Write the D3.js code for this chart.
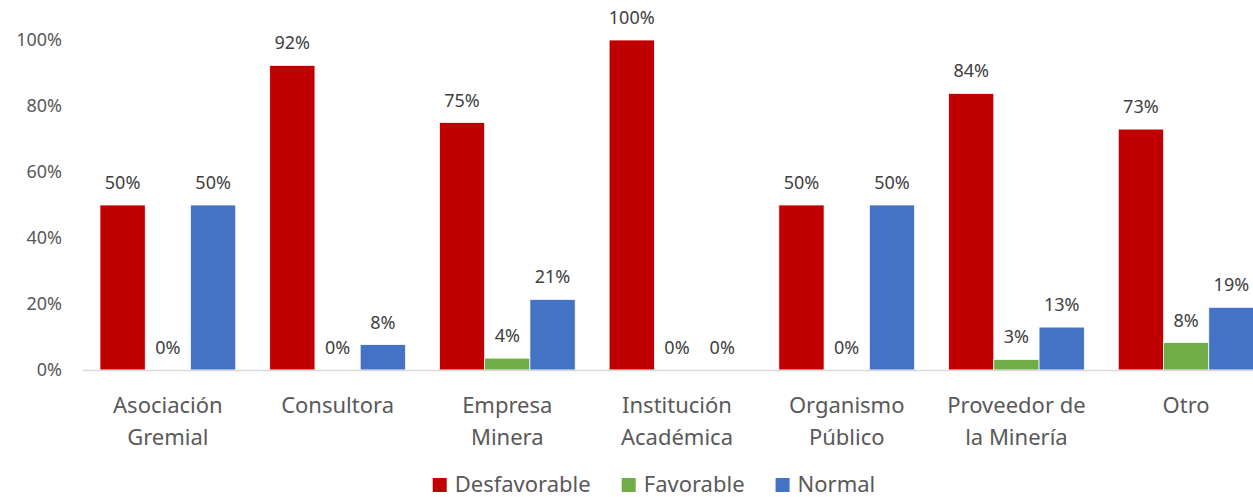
<!DOCTYPE html>
<html>
<head>
<meta charset="utf-8">
<script src="https://cdn.jsdelivr.net/npm/d3@7"></script>
<style>
  body { margin: 0; background: #fff; }
  svg { display: block; font-family: "Noto Sans", sans-serif; }
</style>
</head>
<body>
<svg id="chart" width="1253" height="497"></svg>
<script>
// categories (line breaks as in the picture)
var categories = [
    ["Asociación", "Gremial"],
    ["Consultora"],
    ["Empresa", "Minera"],
    ["Institución", "Académica"],
    ["Organismo", "Público"],
    ["Proveedor de", "la Minería"],
    ["Otro"]
];
var seriesNames = ["Desfavorable", "Favorable", "Normal"];
var seriesColors = ["#C00000", "#70AD47", "#4472C4"];

// values per series, one per category
var desfavorable = [0.50, 0.923, 0.75, 1.00, 0.50, 0.838, 0.73];
var favorable    = [0.00, 0.00, 0.036, 0.00, 0.00, 0.032, 0.083];
var normal       = [0.50, 0.077, 0.214, 0.00, 0.50, 0.13, 0.19];
var yTicks = [0, 0.2, 0.4, 0.6, 0.8, 1.0];

var seriesValues = [desfavorable, favorable, normal];

var svg = d3.select("#chart");

// scales
var x = d3.scaleBand()
    .domain(d3.range(categories.length))
    .range([83, 1271])
    .paddingInner(0.2)
    .paddingOuter(0.1);

var xs = d3.scaleBand()
    .domain(d3.range(seriesNames.length))
    .range([0, x.bandwidth()]);

var y = d3.scaleLinear().domain([0, 1]).range([370, 40]);

// y tick labels
svg.append("g")
    .selectAll("text")
    .data(yTicks)
    .enter().append("text")
    .attr("x", 62)
    .attr("y", function(d) { return y(d); })
    .attr("dy", "0.35em")
    .attr("text-anchor", "end")
    .attr("fill", "#595959")
    .style("font-size", "18px")
    .text(function(d) { return d3.format(".0%")(d); });

// bars
var groups = svg.append("g")
    .selectAll("g")
    .data(categories)
    .enter().append("g")
    .attr("transform", function(d, i) { return "translate(" + x(i) + ",0)"; });

groups.each(function(c, i) {
    var g = d3.select(this);
    seriesValues.forEach(function(vals, s) {
        var v = vals[i];
        if (v > 0) {
            g.append("rect")
                .attr("x", xs(s))
                .attr("y", y(v))
                .attr("width", xs.bandwidth())
                .attr("height", y(0) - y(v))
                .attr("fill", seriesColors[s])
                .attr("stroke", "#fff")
                .attr("stroke-width", 0.75);
        }
        g.append("text")
            .attr("x", xs(s) + xs.bandwidth() / 2)
            .attr("y", y(v) - 16)
            .attr("text-anchor", "middle")
            .attr("fill", "#404040")
            .style("font-size", "18px")
            .text(d3.format(".0%")(v));
    });
});

// x axis line
svg.append("line")
    .attr("x1", 83).attr("x2", 1253)
    .attr("y1", y(0) + 0.5).attr("y2", y(0) + 0.5)
    .attr("stroke", "#D9D9D9")
    .attr("stroke-width", 1.5);

// category labels
var catText = svg.append("g")
    .selectAll("text")
    .data(categories)
    .enter().append("text")
    .attr("text-anchor", "middle")
    .attr("fill", "#595959")
    .style("font-size", "22px");

catText.each(function(lines, i) {
    var t = d3.select(this);
    lines.forEach(function(line, k) {
        t.append("tspan")
            .attr("x", x(i) + x.bandwidth() / 2)
            .attr("y", 413 + k * 32)
            .text(line);
    });
});

// legend
var legend = svg.append("g");
var lx = 0;
seriesNames.forEach(function(name, s) {
    var item = legend.append("g").attr("transform", "translate(" + lx + ",0)");
    item.append("rect")
        .attr("x", 0).attr("y", 478)
        .attr("width", 14).attr("height", 14)
        .attr("fill", seriesColors[s]);
    var txt = item.append("text")
        .attr("x", 22).attr("y", 492)
        .attr("fill", "#595959")
        .style("font-size", "22px")
        .text(name);
    lx += 22 + txt.node().getComputedTextLength() + 31;
});
var legendWidth = lx - 31;
legend.attr("transform", "translate(" + (654 - legendWidth / 2) + ",0)");
</script>
</body>
</html>
